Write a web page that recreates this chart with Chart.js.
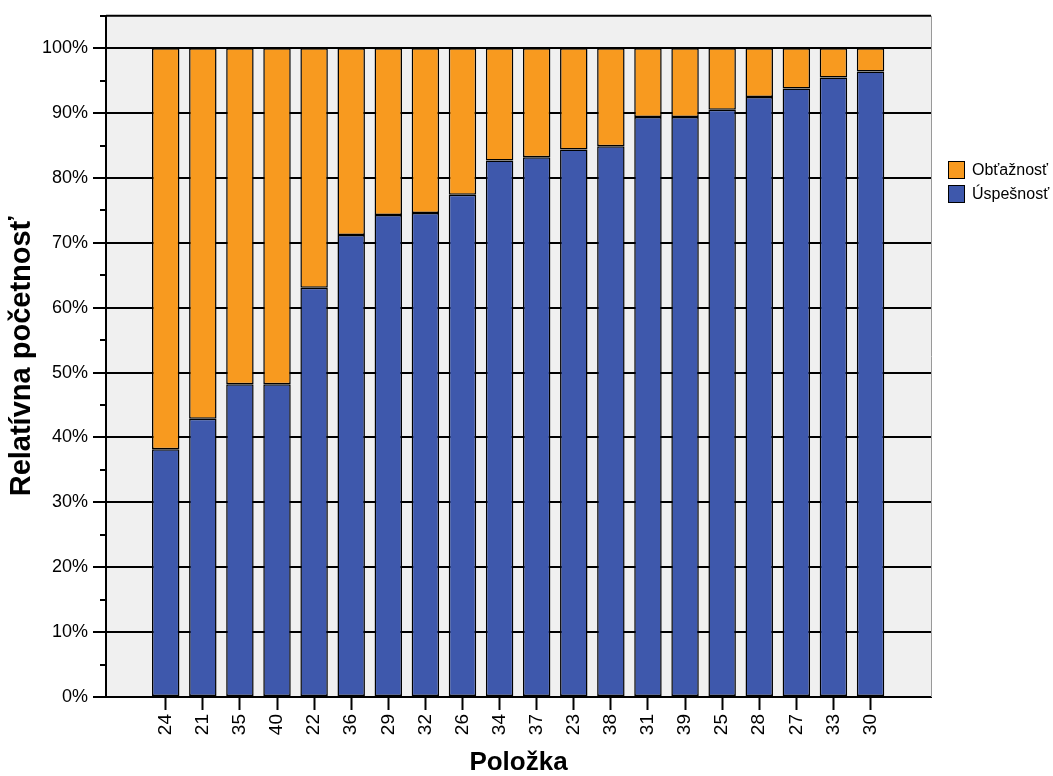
<!DOCTYPE html>
<html lang="sk">
<head>
<meta charset="utf-8">
<title>Relatívna početnosť podľa položky</title>
<script src="https://cdn.jsdelivr.net/npm/chart.js@4.4.1/dist/chart.umd.min.js"></script>
<style>
html,body{margin:0;padding:0;background:#fff;}
#wrap{position:relative;width:1053px;height:776px;}
#legend{position:absolute;left:948px;top:158px;font-family:Arial,"Liberation Sans",sans-serif;font-size:16px;color:#000;}
#legend .item{display:flex;align-items:center;height:24px;white-space:nowrap;}
#legend .sw{width:15px;height:16px;border:1.5px solid #000;margin-right:7px;}
</style>
</head>
<body>
<div id="wrap">
  <canvas id="chart"></canvas>
  <div id="legend"></div>
</div>
<script>
// poradie položiek na osi x
var items = ['24','21','35','40','22','36','29','32','26','34','37','23','38','31','39','25','28','27','33','30'];
// percentá
var uspesnost = [38.2, 42.9, 48.2, 48.2, 63.1, 71.2, 74.3, 74.6, 77.4, 82.7, 83.2, 84.4, 84.9, 89.4, 89.4, 90.5, 92.5, 93.8, 95.5, 96.4];
var obtaznost = [61.8, 57.1, 51.8, 51.8, 36.9, 28.8, 25.7, 25.4, 22.6, 17.3, 16.8, 15.6, 15.1, 10.6, 10.6, 9.5, 7.5, 6.2, 4.5, 3.6];
var seriesNames = ['Úspešnosť', 'Obťažnosť'];
var seriesColors = ['#3e58ac', '#f89a1f'];

(function(){
    var FONT = 'Arial, "Liberation Sans", sans-serif';

    function points(arr){
        return arr.map(function(v, i){ return {x: i, y: v}; });
    }

    var plotFrame = {
        id: 'plotFrame',
        beforeDraw: function(chart){
            var a = chart.chartArea, ctx = chart.ctx;
            ctx.save();
            ctx.fillStyle = '#f0f0f0';
            ctx.fillRect(a.left, a.top, a.right - a.left, a.bottom - a.top);
            ctx.restore();
        },
        afterDraw: function(chart){
            var a = chart.chartArea, ctx = chart.ctx;
            ctx.save();
            ctx.strokeStyle = '#000';
            ctx.lineWidth = 2;
            ctx.beginPath(); ctx.moveTo(a.left, a.top); ctx.lineTo(a.right, a.top); ctx.stroke();
            ctx.strokeStyle = '#999';
            ctx.lineWidth = 1;
            ctx.beginPath(); ctx.moveTo(a.right + 0.5, a.top); ctx.lineTo(a.right + 0.5, a.bottom); ctx.stroke();
            ctx.restore();
        }
    };

    function buildLegend(){
        var el = document.getElementById('legend');
        for(var i = seriesNames.length - 1; i >= 0; i--){
            var row = document.createElement('div');
            row.className = 'item';
            var sw = document.createElement('span');
            sw.className = 'sw';
            sw.style.background = seriesColors[i];
            var tx = document.createElement('span');
            tx.textContent = seriesNames[i];
            row.appendChild(sw); row.appendChild(tx);
            el.appendChild(row);
        }
    }

    var ctx = document.getElementById('chart').getContext('2d');
    var datasets = [uspesnost, obtaznost].map(function(arr, i){
        return {
            label: seriesNames[i],
            data: points(arr),
            backgroundColor: seriesColors[i],
            borderColor: '#000',
            borderWidth: 1.5,
            borderSkipped: false,
            barPercentage: 0.74,
            categoryPercentage: 1
        };
    });

    new Chart(ctx, {
        type: 'bar',
        data: { datasets: datasets },
        options: {
            responsive: true,
            maintainAspectRatio: false,
            animation: false,
            layout: { padding: { left: 0, right: 122, top: 13, bottom: 0 } },
            plugins: { legend: { display: false }, tooltip: { enabled: false } },
            scales: {
                x: {
                    type: 'linear',
                    stacked: true,
                    offset: false,
                    min: -1.61,
                    max: 20.63,
                    afterBuildTicks: function(s){ s.ticks = items.map(function(_, i){ return {value: i}; }); },
                    afterFit: function(s){ s.height = 79; },
                    grid: { offset: false, drawOnChartArea: false, drawTicks: true, tickLength: 13, tickColor: '#000', tickWidth: 2 },
                    border: { color: '#000', width: 2 },
                    ticks: {
                        autoSkip: false,
                        minRotation: 90, maxRotation: 90,
                        padding: 4,
                        color: '#000',
                        font: { family: FONT, size: 19 },
                        callback: function(v){ return items[v]; }
                    },
                    title: { display: true, text: 'Položka', color: '#000', font: { family: FONT, size: 26, weight: 'bold' }, padding: { top: 0, bottom: -2 } }
                },
                y: {
                    stacked: true,
                    min: 0,
                    max: 105,
                    afterFit: function(s){ s.width = 106; },
                    grid: {
                        color: function(c){ var v = c.tick.value; return (v % 10 === 0 && v <= 100) ? '#000' : 'rgba(0,0,0,0)'; },
                        lineWidth: 2,
                        tickLength: 13,
                        tickColor: '#000',
                        tickWidth: 2,
                        tickBorderDash: function(c){ return (c.tick && c.tick.value % 10 === 0) ? [] : [0, 7, 6, 0]; }
                    },
                    border: { color: '#000', width: 2 },
                    ticks: {
                        stepSize: 5,
                        padding: 5,
                        color: '#000',
                        font: { family: FONT, size: 18 },
                        callback: function(v){ return (v % 10 === 0 && v <= 100) ? v + '%' : ''; }
                    },
                    title: { display: true, text: 'Relatívna početnosť', color: '#000', font: { family: FONT, size: 29, weight: 'bold' }, padding: { top: 5, bottom: 0 } }
                }
            }
        },
        plugins: [plotFrame]
    });

    buildLegend();
})();
</script>
</body>
</html>
